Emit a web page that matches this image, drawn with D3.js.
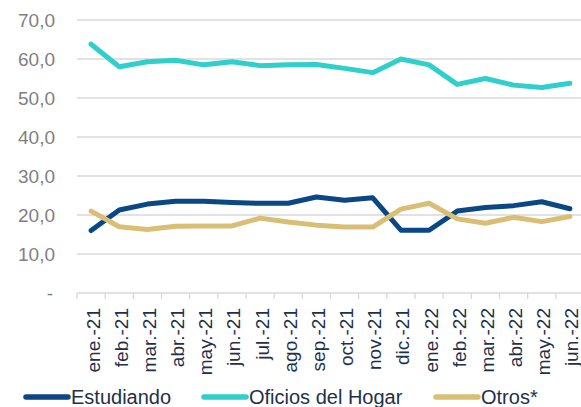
<!DOCTYPE html>
<html>
<head>
<meta charset="utf-8">
<script src="https://cdn.jsdelivr.net/npm/d3@7"></script>
<style>
    body { margin: 0; background: #fff; }
    svg { display: block; font-family: "Liberation Sans", Arial, sans-serif; }
</style>
</head>
<body>
<div id="chart"></div>
<script>
// Categories (months) and series values
const months = ["ene.-21", "feb.-21", "mar.-21", "abr.-21", "may.-21", "jun.-21", "jul.-21", "ago.-21", "sep.-21",
    "oct.-21", "nov.-21", "dic.-21", "ene.-22", "feb.-22", "mar.-22", "abr.-22", "may.-22", "jun.-22"];
const estudiando = [16.0, 21.3, 22.8, 23.5, 23.5, 23.2, 23.0, 23.0, 24.6, 23.8, 24.4, 16.1, 16.1, 21.0, 21.9, 22.4, 23.4, 21.6];
const oficiosHogar = [63.8, 58.0, 59.3, 59.7, 58.5, 59.3, 58.3, 58.5, 58.6, 57.6, 56.5, 60.0, 58.5, 53.5, 55.0, 53.3, 52.7, 53.8];
const otros = [21.0, 17.0, 16.3, 17.1, 17.2, 17.2, 19.2, 18.2, 17.4, 16.9, 16.9, 21.5, 23.0, 19.0, 17.9, 19.4, 18.3, 19.6];
const yTicks = [0, 10, 20, 30, 40, 50, 60, 70];

const series = [
    { name: "Estudiando", values: estudiando, color: "#0a4784" },
    { name: "Oficios del Hogar", values: oficiosHogar, color: "#2fcfcb" },
    { name: "Otros*", values: otros, color: "#d9bf75" }
];

const W = 581, H = 407;
const margin = { top: 20, left: 77, bottom: 114 };
const plotW = 507;
const plotH = H - margin.top - margin.bottom;

const svg = d3.select("#chart").append("svg")
    .attr("width", W)
    .attr("height", H);

const x = d3.scaleBand().domain(months).range([0, plotW]);
const y = d3.scaleLinear().domain([0, 70]).range([plotH, 0]);

const g = svg.append("g").attr("transform", `translate(${margin.left},${margin.top})`);

// Gridlines
g.append("g")
    .selectAll("line")
    .data(yTicks)
    .join("line")
    .attr("x1", 0)
    .attr("x2", plotW)
    .attr("y1", d => y(d))
    .attr("y2", d => y(d))
    .attr("stroke", "#d9d9d9")
    .attr("stroke-width", 1.3);

// Y axis labels
const fmt = d => d === 0 ? "-" : d3.format(".1f")(d).replace(".", ",");
g.append("g")
    .selectAll("text")
    .data(yTicks)
    .join("text")
    .attr("x", d => d === 0 ? -24 : -22)
    .attr("y", d => y(d))
    .attr("dy", "0.35em")
    .attr("text-anchor", "end")
    .attr("fill", "#7f7f7f")
    .style("font-size", "19px")
    .text(fmt);

// X axis: tick marks at category boundaries + rotated labels
const xAxis = g.append("g")
    .attr("transform", `translate(0,${plotH})`)
    .call(d3.axisBottom(x).tickSize(0).tickPadding(0).tickFormat(d => d));
xAxis.select(".domain").remove();
xAxis.selectAll("text")
    .attr("transform", "rotate(-90)")
    .attr("text-anchor", "end")
    .attr("x", -15)
    .attr("y", 0)
    .attr("dy", "0.45em")
    .attr("fill", "#1f3048")
    .style("font-size", "19px")
    .style("font-family", "'Liberation Sans', Arial, sans-serif");

xAxis.selectAll("line.bound")
    .data(months)
    .join("line")
    .attr("class", "bound")
    .attr("x1", d => x(d))
    .attr("x2", d => x(d))
    .attr("y1", 0)
    .attr("y2", 6)
    .attr("stroke", "#d9d9d9")
    .attr("stroke-width", 1.3);

// Lines
const line = d3.line()
    .x((d, i) => x(months[i]) + x.bandwidth() / 2)
    .y(d => y(d));

g.append("g")
    .selectAll("path")
    .data(series)
    .join("path")
    .attr("d", d => line(d.values))
    .attr("fill", "none")
    .attr("stroke", d => d.color)
    .attr("stroke-width", 5)
    .attr("stroke-linejoin", "round")
    .attr("stroke-linecap", "round");

// Legend
const legendX = [26, 204, 436];
const legend = svg.append("g")
    .selectAll("g")
    .data(series)
    .join("g")
    .attr("transform", (d, i) => `translate(${legendX[i]},397)`);

legend.append("line")
    .attr("x1", 0)
    .attr("x2", 42)
    .attr("stroke", d => d.color)
    .attr("stroke-width", 5.5)
    .attr("stroke-linecap", "round");

legend.append("text")
    .attr("x", 45)
    .attr("dy", "0.35em")
    .attr("fill", "#1f3048")
    .style("font-size", "20px")
    .text(d => d.name);
</script>
</body>
</html>
